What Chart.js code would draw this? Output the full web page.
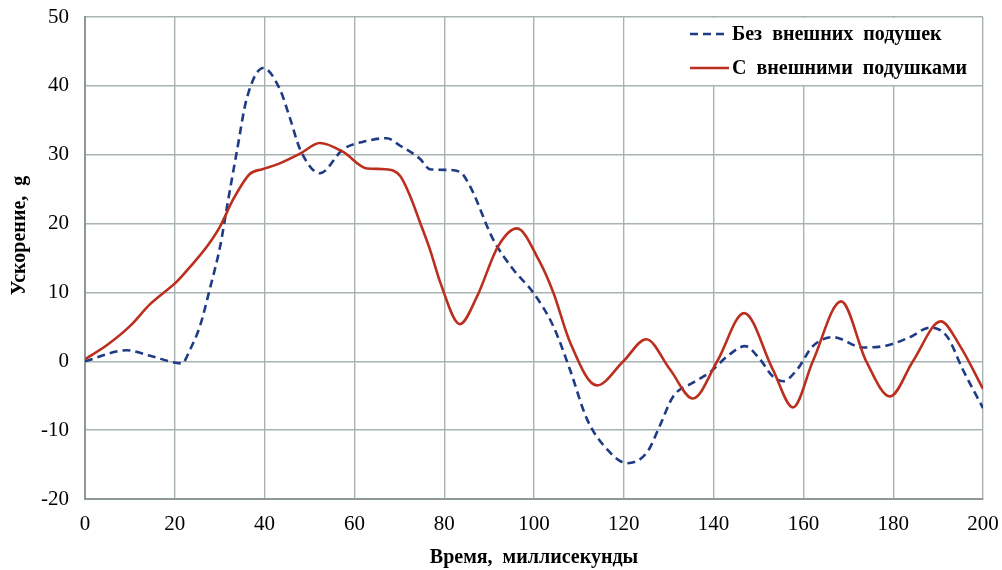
<!DOCTYPE html>
<html>
<head>
<meta charset="utf-8">
<script src="https://cdn.jsdelivr.net/npm/chart.js@4"></script>
<style>
  html, body { margin: 0; padding: 0; background: #fff; }
  #wrap { width: 1002px; height: 570px; }
</style>
</head>
<body>
<div id="wrap"><canvas id="chart"></canvas></div>
<script>
// Time, ms / acceleration, g
const timeNoPads = [0, 9.3, 14.5, 21.6, 23.4, 25.6, 27.8, 30.1, 31.8, 33.8, 36, 39.7, 43.4, 45.7, 47.9, 52.3, 57.5, 62.8, 67.2, 70.2, 74.6, 76.8, 80.6, 83.5, 85.7, 90.9, 95.3, 99.8, 104.3, 108, 111.8, 116.3, 120.7, 125.2, 128, 131, 135.4, 139.2, 143, 147, 150.3, 153.2, 155.5, 158.6, 162.1, 166.6, 173.3, 178.6, 183.7, 188.2, 192, 195.5, 200];
const accelNoPads = [0, 1.6, 0.8, -0.3, 1.7, 5.1, 10.5, 16.7, 23.1, 30.4, 38.1, 42.6, 39.5, 35.2, 30.8, 27.3, 30.8, 32, 32.4, 31.3, 29.4, 27.9, 27.8, 27.5, 25.5, 17.7, 13.4, 10, 5.1, -1.2, -8.4, -12.8, -14.8, -13.2, -9.4, -5.1, -3.1, -1.6, 0.7, 2.2, 0.3, -2.2, -2.9, -1.2, 2.2, 3.5, 2, 2.3, 3.5, 4.9, 3.6, -1.2, -6.8];

const timeWithPads = [0, 5, 10, 14.5, 20.5, 23.4, 27.2, 30.1, 33, 36.7, 39.5, 42.8, 48, 52.3, 57.5, 62.8, 67, 70.2, 72.4, 74.6, 76.8, 79.1, 83.5, 87.3, 92, 96.2, 101, 104.3, 108, 114, 119.9, 125, 130.3, 135.4, 140.8, 146.8, 153.2, 157.7, 162.1, 168.4, 174, 179.3, 184.4, 190.6, 194.9, 200];
const accelWithPads = [0.3, 2.4, 5.1, 8.3, 11.6, 13.7, 16.7, 19.6, 23.5, 27.2, 27.9, 28.6, 30.2, 31.7, 30.4, 28, 27.9, 26.9, 24, 20.2, 16.3, 11.5, 5.4, 9.4, 16.7, 19.3, 14.8, 10, 2.8, -3.5, 0, 3.2, -1.2, -5.4, 0, 7, -1.2, -6.7, 0, 8.7, 0, -5.1, 0, 5.8, 2.2, -4];

const seriesNames = ["Без внешних подушек", "С внешними подушками"];
const xTicks = [0, 20, 40, 60, 80, 100, 120, 140, 160, 180, 200];
const yTicks = [-20, -10, 0, 10, 20, 30, 40, 50];

const BLUE = "#1f3b85";
const RED = "#bb2f1f";
const GRID = "#a9b3b3";
const FONT = "'Liberation Serif', 'Times New Roman', serif";

const toPoints = (xs, ys) => xs.map((x, i) => ({ x, y: ys[i] }));

// legend drawn inside the plot, on a white patch above 40 g, right of 120 ms
const insideLegend = {
  id: "insideLegend",
  afterDatasetsDraw(chart) {
    const { ctx, scales: { x, y }, chartArea } = chart;
    const left = x.getPixelForValue(120);
    const bottom = y.getPixelForValue(40);
    ctx.save();
    ctx.fillStyle = "#fff";
    ctx.fillRect(left + 1, chartArea.top + 1, chartArea.right - left - 2, bottom - chartArea.top - 2);

    const rows = [
      { label: seriesNames[0], color: BLUE, dash: [8, 5], cy: 34 },
      { label: seriesNames[1], color: RED, dash: [], cy: 68 },
    ];
    ctx.font = "bold 20px " + FONT;
    ctx.wordSpacing = "5px";
    ctx.textBaseline = "middle";
    ctx.textAlign = "left";
    rows.forEach((r) => {
      ctx.beginPath();
      ctx.setLineDash(r.dash);
      ctx.strokeStyle = r.color;
      ctx.lineWidth = 2.5;
      ctx.moveTo(690, r.cy);
      ctx.lineTo(729, r.cy);
      ctx.stroke();
      ctx.setLineDash([]);
      ctx.fillStyle = "#000";
      ctx.fillText(r.label, 732, r.cy + 1);
    });
    ctx.restore();
  },
};

new Chart(document.getElementById("chart"), {
  type: "line",
  data: {
    datasets: [
      {
        label: seriesNames[0],
        data: toPoints(timeNoPads, accelNoPads),
        borderColor: BLUE,
        borderWidth: 2.6,
        borderDash: [8, 5],
        pointRadius: 0,
        cubicInterpolationMode: "monotone",
        order: 1,
      },
      {
        label: seriesNames[1],
        data: toPoints(timeWithPads, accelWithPads),
        borderColor: RED,
        borderWidth: 2.6,
        pointRadius: 0,
        cubicInterpolationMode: "monotone",
        order: 0,
      },
    ],
  },
  options: {
    responsive: true,
    maintainAspectRatio: false,
    animation: false,
    layout: { padding: { left: 8, right: 19, top: 17, bottom: 0 } },
    plugins: {
      legend: { display: false },
      tooltip: { enabled: false },
    },
    scales: {
      x: {
        type: "linear",
        min: 0,
        max: 200,
        afterBuildTicks: (s) => { s.ticks = xTicks.map((v) => ({ value: v })); },
        afterFit: (s) => { s.height = 71; s.paddingLeft = 0; s.paddingRight = 0; },
        grid: { color: GRID, lineWidth: 1.4, drawTicks: false },
        border: { color: "#8f9898", width: 2 },
        ticks: { color: "#000", font: { family: FONT, size: 21 }, padding: 13 },
        title: {
          display: true,
          text: "Время,  миллисекунды",
          color: "#000",
          font: { family: FONT, size: 20, weight: "bold" },
          padding: { top: 0, bottom: 0 },
        },
      },
      y: {
        min: -20,
        max: 50,
        afterBuildTicks: (s) => { s.ticks = yTicks.map((v) => ({ value: v })); },
        afterFit: (s) => { s.width = 77; s.paddingTop = 0; s.paddingBottom = 0; },
        grid: { color: GRID, lineWidth: 1.4, drawTicks: false },
        border: { color: "#8f9898", width: 2 },
        ticks: { color: "#000", font: { family: FONT, size: 21 }, padding: 16 },
        title: {
          display: true,
          text: "         Ускорение,  g",
          color: "#000",
          font: { family: FONT, size: 20, weight: "bold" },
          padding: { top: 0, bottom: 0 },
        },
      },
    },
  },
  plugins: [insideLegend],
});
</script>
</body>
</html>
